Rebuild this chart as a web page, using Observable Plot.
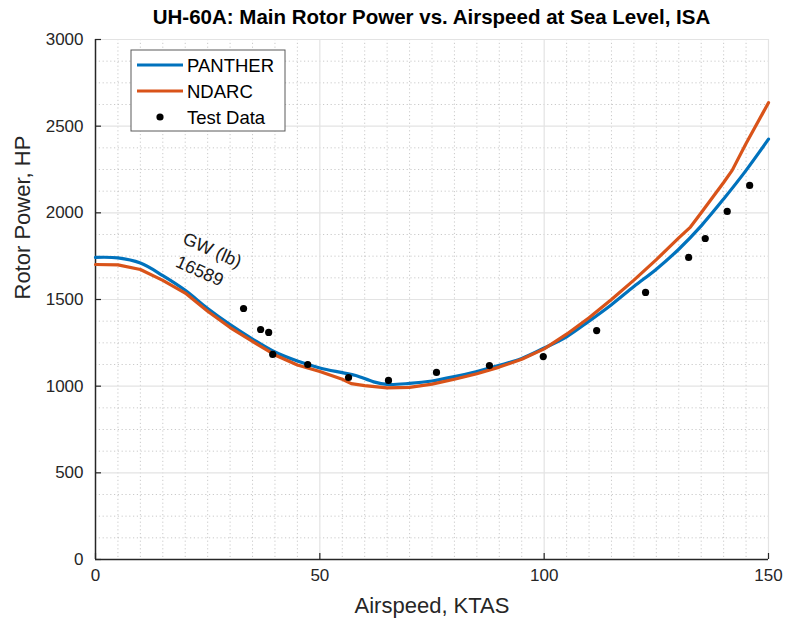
<!DOCTYPE html>
<html>
<head>
<meta charset="utf-8">
<script src="https://cdn.jsdelivr.net/npm/d3@7"></script>
<script src="https://cdn.jsdelivr.net/npm/@observablehq/plot@0.6"></script>
<style>
  body { margin: 0; background: #fff; font-family: "Liberation Sans", Arial, sans-serif; }
  #wrap { position: relative; width: 787px; height: 627px; }
  #title { position: absolute; left: 95px; width: 673px; top: 5px; text-align: center; font-weight: bold; font-size: 20.5px; color: #000; }
  #legend { position: absolute; left: 0; top: 0; }
</style>
</head>
<body>
<div id="wrap">
  <div id="chart"></div>
  <div id="title">UH-60A: Main Rotor Power vs. Airspeed at Sea Level, ISA</div>
</div>
<script>
// ---- data ----
const speedPanther = [0,5,10,15,20,25,30,35,40,45,50,55,58,62,65,70,75,80,85,90,95,100,105,110,115,120,125,130,135,140,145,150];
const powerPanther = [1743,1740,1710,1638,1553,1448,1355,1272,1197,1145,1105,1078,1062,1025,1010,1016,1030,1055,1085,1120,1160,1220,1285,1375,1470,1575,1675,1790,1925,2080,2245,2425];

const speedNdarc = [0,5,10,15,20,25,30,35,40,45,50,55,57,60,65,70,75,80,85,90,95,100,105,110,115,120,125,130,132.6,135,140,141.9,145,150];
const powerNdarc = [1702,1700,1673,1610,1537,1432,1338,1258,1180,1122,1085,1040,1015,1003,990,993,1012,1040,1072,1110,1155,1215,1300,1395,1500,1612,1730,1855,1918,2000,2175,2245,2400,2635];

const speedTest = [33,36.8,38.6,39.5,47.3,56.4,65.3,76,87.8,99.8,111.7,122.6,132.2,135.9,140.8,145.8];
const powerTest = [1448,1327,1310,1183,1125,1050,1033,1079,1119,1171,1321,1541,1743,1852,2008,2158];

const xTicks = [0,50,100,150];
const yTicks = [0,500,1000,1500,2000,2500,3000];
const seriesNames = ["PANTHER","NDARC","Test Data"];
const colors = ["#0072BD","#D95319","#000000"];
const gwLabel = "GW (lb)";
const gwValue = "16589";

// ---- build tables ----
const panther = speedPanther.map((s,i)=>({s, p: powerPanther[i]}));
const ndarc = speedNdarc.map((s,i)=>({s, p: powerNdarc[i]}));
const test = speedTest.map((s,i)=>({s, p: powerTest[i]}));
const minorX = d3.range(0,151,5).filter(v=>v%50!==0);
const minorY = d3.range(0,3001,125).filter(v=>v%500!==0);

const W = 787, H = 627;
const fontTick = "17px";
const ff = '"Liberation Sans", Arial, sans-serif';

const chart = Plot.plot({
  width: W, height: H,
  marginLeft: 95, marginRight: 19, marginTop: 39, marginBottom: 68,
  style: { fontFamily: ff, background: "#fff", color: "#262626" },
  x: { domain: [0,150], axis: null },
  y: { domain: [0,3000], axis: null },
  marks: [
    Plot.ruleX(minorX, { stroke: "#bdbdbd", strokeDasharray: "1.2,2.6", strokeWidth: 0.8 }),
    Plot.ruleY(minorY, { stroke: "#bdbdbd", strokeDasharray: "1.2,2.6", strokeWidth: 0.8 }),
    Plot.ruleX(xTicks.filter(v=>v>0), { stroke: "#e3e3e3", strokeWidth: 1.2 }),
    Plot.ruleY(yTicks.filter(v=>v>0), { stroke: "#e3e3e3", strokeWidth: 1.2 }),
    // axis lines
    Plot.ruleX([0], { stroke: "#262626", strokeWidth: 1.5 }),
    Plot.ruleY([0], { stroke: "#262626", strokeWidth: 1.5 }),
    // inward tick marks
    Plot.ruleX(xTicks, { stroke: "#262626", strokeWidth: 1.2, insetTop: 520 - 6 }),
    Plot.ruleY(yTicks, { stroke: "#262626", strokeWidth: 1.2, insetRight: 673 - 6 }),
    // tick labels
    Plot.axisX(xTicks, { tickSize: 0, tickPadding: 9, fontSize: fontTick, color: "#262626", label: null }),
    Plot.axisY(yTicks, { tickSize: 0, tickPadding: 12, fontSize: fontTick, color: "#262626", label: null, tickFormat: d=>String(d) }),
    // series
    Plot.line(panther, { x: "s", y: "p", stroke: colors[0], strokeWidth: 3.2, curve: "catmull-rom" }),
    Plot.line(ndarc, { x: "s", y: "p", stroke: colors[1], strokeWidth: 3.2 }),
    Plot.dot(test, { x: "s", y: "p", r: 3.6, fill: colors[2], stroke: "none" }),
    // annotation
    Plot.text([gwLabel], { x: 26, y: 1784, text: d=>d, rotate: 24, fontSize: 18, fill: "#1a1a1a" }),
    Plot.text([gwValue], { x: 23.2, y: 1663, text: d=>d, rotate: 24, fontSize: 18, fill: "#1a1a1a" }),
    // axis titles
    Plot.text(["Airspeed, KTAS"], { frameAnchor: "bottom", dy: 53, text: d=>d, fontSize: 22, fill: "#262626" }),
    Plot.text(["Rotor Power, HP"], { frameAnchor: "left", dx: -73, rotate: -90, text: d=>d, fontSize: 22, fill: "#262626" })
  ]
});
document.getElementById("chart").appendChild(chart);

// ---- legend (overlay) ----
const svg = d3.select("#wrap").append("svg").attr("id","legend").attr("width", W).attr("height", H);
const g = svg.append("g");
g.append("rect").attr("x",131).attr("y",50).attr("width",154).attr("height",81)
  .attr("fill","#fff").attr("stroke","#5a5a5a").attr("stroke-width",1);
const rowsY = [65, 91, 117];
seriesNames.forEach((name,i)=>{
  if (i < 2) {
    g.append("line").attr("x1",137).attr("x2",183).attr("y1",rowsY[i]).attr("y2",rowsY[i])
      .attr("stroke",colors[i]).attr("stroke-width",3.2);
  } else {
    g.append("circle").attr("cx",160).attr("cy",rowsY[i]).attr("r",3.6).attr("fill",colors[i]);
  }
  g.append("text").attr("x",187).attr("y",rowsY[i]).attr("dy","0.36em")
    .attr("font-size","18.5px").attr("font-family",ff)
    .attr("fill","#000").text(name);
});
</script>
</body>
</html>
